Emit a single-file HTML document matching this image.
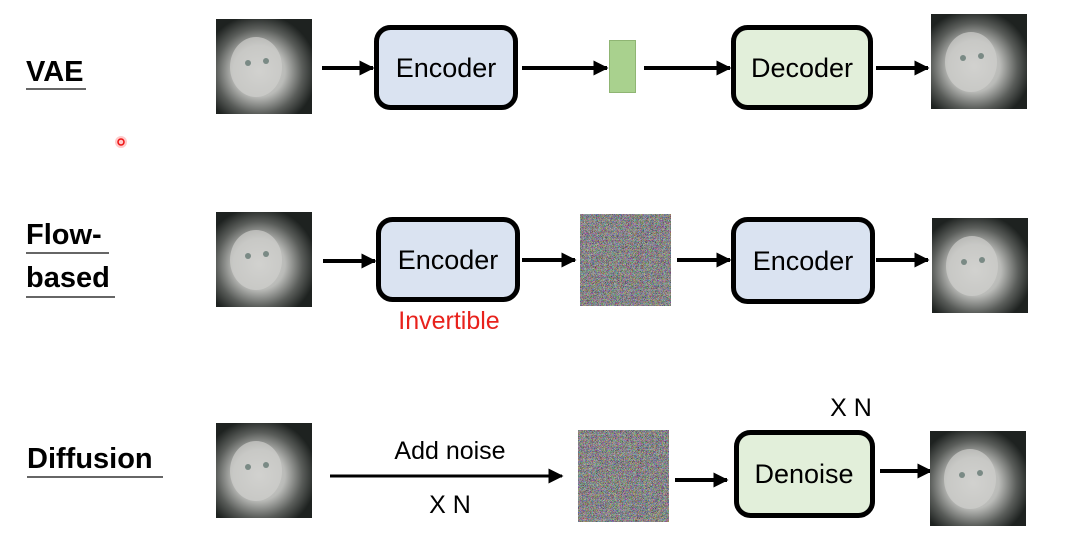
<!DOCTYPE html>
<html><head><meta charset="utf-8"><style>
html,body{margin:0;padding:0;background:#fff;}
svg{display:block;}
text{font-family:"Liberation Sans",sans-serif;}
</style></head><body>
<svg width="1068" height="549" viewBox="0 0 1068 549" xmlns="http://www.w3.org/2000/svg">
<defs>
<radialGradient id="cat" cx="0.45" cy="0.55" r="0.6">
<stop offset="0" stop-color="#d8d8d6"/><stop offset="0.45" stop-color="#b9bab7"/><stop offset="0.75" stop-color="#5a5d5a"/><stop offset="1" stop-color="#1e2220"/>
</radialGradient>
<filter id="noise" x="0" y="0" width="100%" height="100%">
<feTurbulence type="turbulence" baseFrequency="1.2" numOctaves="1" seed="5"/>
<feColorMatrix type="matrix" values="1.3 0 0 0 0.05  0 1.3 0 0 0.05  0 0 1.3 0 0.05  0 0 0 0 1"/>
</filter>
<marker id="ah" viewBox="0 0 10 10" refX="9" refY="5" markerWidth="3.8" markerHeight="3.8" orient="auto"><path d="M0,0L10,5L0,10z" fill="#000"/></marker>
<marker id="ah2" viewBox="0 0 10 10" refX="9" refY="5" markerWidth="5" markerHeight="5" orient="auto"><path d="M0,0L10,5L0,10z" fill="#000"/></marker>
<g id="catimg"><rect width="96" height="95" fill="url(#cat)"/><ellipse cx="40" cy="48" rx="26" ry="30" fill="#cfcfcc" opacity="0.7"/><circle cx="32" cy="44" r="3" fill="#7a8a85"/><circle cx="50" cy="42" r="3" fill="#7a8a85"/></g>
</defs>

<text x="26" y="81" font-size="29" font-weight="bold">VAE</text>
<line x1="26" y1="89" x2="86" y2="89" stroke="#333" stroke-width="1.5"/>
<circle cx="121" cy="142" r="6" fill="#f66" opacity="0.35"/><circle cx="121" cy="142" r="3" fill="none" stroke="#e11" stroke-width="1.5"/>
<text x="26" y="244" font-size="29" font-weight="bold">Flow-</text>
<line x1="26" y1="253" x2="109" y2="253" stroke="#333" stroke-width="1.5"/>
<text x="26" y="287" font-size="29" font-weight="bold">based</text>
<line x1="26" y1="297" x2="115" y2="297" stroke="#333" stroke-width="1.5"/>
<text x="27" y="468" font-size="29" font-weight="bold">Diffusion</text>
<line x1="27" y1="477" x2="163" y2="477" stroke="#333" stroke-width="1.5"/>

<use href="#catimg" x="216" y="19"/>
<line x1="322" y1="68" x2="373" y2="68" stroke="#000" stroke-width="4" marker-end="url(#ah)"/>
<rect x="376.5" y="27.5" width="139" height="80" rx="14" fill="#dae3f1" stroke="#000" stroke-width="5"/>
<text x="446" y="77" font-size="27" text-anchor="middle">Encoder</text>
<line x1="522" y1="68" x2="607" y2="68" stroke="#000" stroke-width="4" marker-end="url(#ah)"/>
<rect x="609.5" y="40.5" width="26" height="52" fill="#a9d18e" stroke="#8fb573"/>
<line x1="644" y1="68" x2="730" y2="68" stroke="#000" stroke-width="4" marker-end="url(#ah)"/>
<rect x="733.5" y="27.5" width="137" height="80" rx="14" fill="#e2efda" stroke="#000" stroke-width="5"/>
<text x="802" y="77" font-size="27" text-anchor="middle">Decoder</text>
<line x1="876" y1="68" x2="928" y2="68" stroke="#000" stroke-width="4" marker-end="url(#ah)"/>
<use href="#catimg" x="931" y="14"/>

<use href="#catimg" x="216" y="212"/>
<line x1="323" y1="261" x2="375" y2="261" stroke="#000" stroke-width="4" marker-end="url(#ah)"/>
<rect x="378.5" y="219.5" width="139" height="80" rx="14" fill="#dae3f1" stroke="#000" stroke-width="5"/>
<text x="448" y="269" font-size="27" text-anchor="middle">Encoder</text>
<text x="449" y="329" font-size="25" text-anchor="middle" fill="#e8221c">Invertible</text>
<line x1="522" y1="260" x2="575" y2="260" stroke="#000" stroke-width="4" marker-end="url(#ah)"/>
<rect x="580" y="214" width="91" height="92" filter="url(#noise)"/>
<line x1="677" y1="260" x2="730" y2="260" stroke="#000" stroke-width="4" marker-end="url(#ah)"/>
<rect x="733.5" y="219.5" width="139" height="82" rx="14" fill="#dae3f1" stroke="#000" stroke-width="5"/>
<text x="803" y="270" font-size="27" text-anchor="middle">Encoder</text>
<line x1="876" y1="260" x2="928" y2="260" stroke="#000" stroke-width="4" marker-end="url(#ah)"/>
<use href="#catimg" x="932" y="218"/>

<use href="#catimg" x="216" y="423"/>
<text x="450" y="459" font-size="25" text-anchor="middle">Add noise</text>
<line x1="330" y1="476" x2="562" y2="476" stroke="#000" stroke-width="3" marker-end="url(#ah2)"/>
<text x="450" y="513" font-size="25" text-anchor="middle">X N</text>
<rect x="578" y="430" width="91" height="92" filter="url(#noise)"/>
<line x1="675" y1="480" x2="727" y2="480" stroke="#000" stroke-width="4" marker-end="url(#ah)"/>
<rect x="736.5" y="432.5" width="136" height="83" rx="14" fill="#e2efda" stroke="#000" stroke-width="5"/>
<text x="804" y="483" font-size="27" text-anchor="middle">Denoise</text>
<text x="851" y="416" font-size="25" text-anchor="middle">X N</text>
<line x1="880" y1="471" x2="931" y2="471" stroke="#000" stroke-width="4" marker-end="url(#ah)"/>
<use href="#catimg" x="930" y="431"/>
</svg>
</body></html>
